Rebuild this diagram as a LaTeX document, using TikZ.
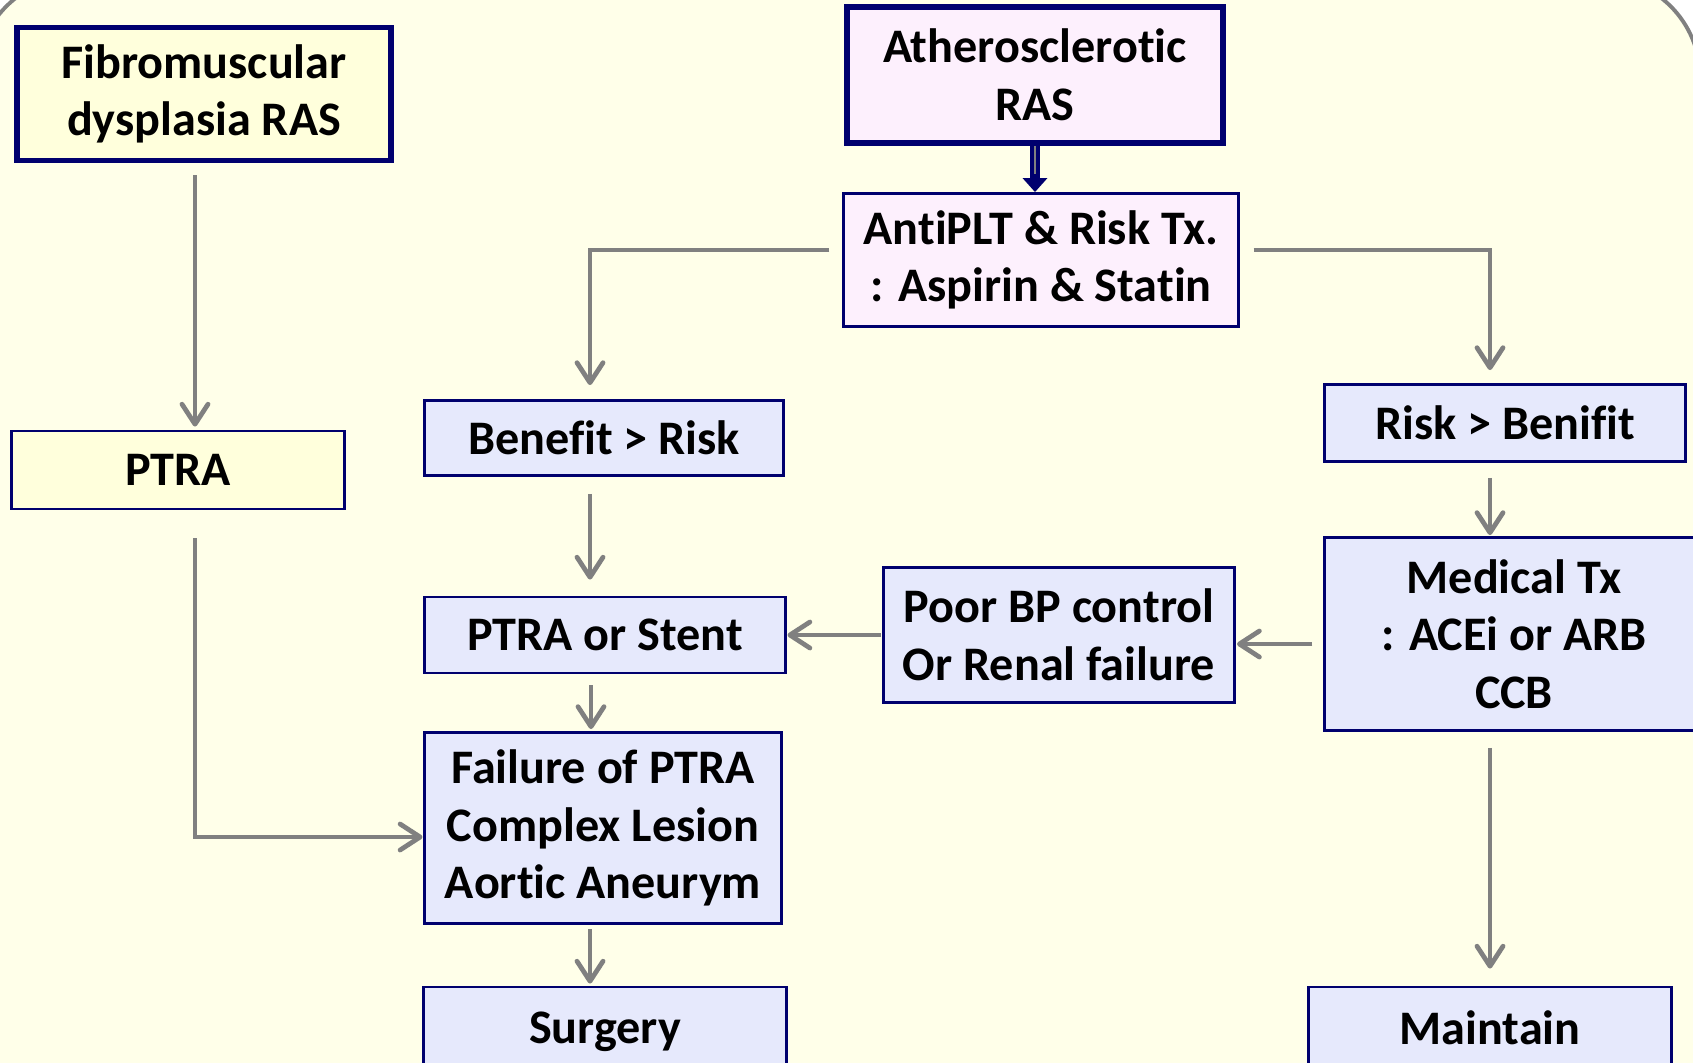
\documentclass[tikz,border=0pt]{standalone}
\usepackage{fontspec}
\setmainfont{Carlito}[Ligatures=CommonOff]
\usepackage{tikz}
\usetikzlibrary{arrows.meta, calc}
\definecolor{navyc}{RGB}{0, 0, 110}
\definecolor{arrgray}{RGB}{128, 128, 128}
\definecolor{bgc}{RGB}{255, 255, 233}
\definecolor{ylwbox}{RGB}{255, 255, 220}
\definecolor{pinkbox}{RGB}{253, 240, 253}
\definecolor{lavbox}{RGB}{230, 233, 252}

\begin{document}
\begin{tikzpicture}[x=0.01cm, y=-0.01cm,
		box/.style={rectangle, draw=navyc, line width=0.8pt, fill=lavbox,
			align=center, inner sep=0pt,
			font=\fontsize{13.7}{16.4}\selectfont\bfseries},
		topbox/.style={box, line width=1.6pt},
		arrow/.style={draw=arrgray, line width=1.35pt,
			-{Straight Barb[length=2mm, width=2.6mm, round]}},
		dblarrow/.style={draw=navyc, line width=2.8pt,
			-{Triangle[length=1.4mm, width=2.4mm]},
			postaction={draw=arrgray, line width=0.8pt, -, shorten >=5pt}}
		]
		\useasboundingbox (0,0) rectangle (1693,1062);
		\filldraw[fill=bgc, draw=arrgray, line width=1.1pt, rounded corners=1cm]
		(-23,-23) rectangle (1700,1300);
		
		% left branch
		\node[topbox, fill=ylwbox, minimum width=3.74cm, minimum height=1.33cm]
		(fmd) at (204, 94) {Fibromuscular\\dysplasia RAS};
		\node[box, fill=ylwbox, minimum width=3.32cm, minimum height=0.78cm]
		(ptra) at (178, 470) {PTRA};
		
		% atherosclerotic branch
		\node[topbox, fill=pinkbox, minimum width=3.76cm, minimum height=1.36cm]
		(ath) at (1035, 75) {Atherosclerotic\\RAS};
		\node[box, fill=pinkbox, minimum width=3.94cm, minimum height=1.33cm]
		(anti) at (1041, 260) {AntiPLT \& Risk Tx.\\: Aspirin \& Statin};
		
		\node[box, minimum width=3.59cm, minimum height=0.75cm]
		(ben) at (604, 438) {Benefit > Risk};
		\node[box, minimum width=3.60cm, minimum height=0.76cm]
		(ps) at (605, 635) {PTRA or Stent};
		\node[box, minimum width=3.56cm, minimum height=1.91cm]
		(fail) at (603, 828) {Failure of PTRA\\Complex Lesion\\Aortic Aneurym};
		\node[box, minimum width=3.62cm, minimum height=0.90cm]
		(surg) at (605, 1032) {Surgery};
		
		\node[box, minimum width=3.60cm, minimum height=0.77cm]
		(rb) at (1505, 423) {Risk > Benifit};
		\node[box, minimum width=3.78cm, minimum height=1.93cm]
		(med) at (1514, 634) {Medical Tx\\: ACEi or ARB\\CCB};
		\node[box, minimum width=3.51cm, minimum height=1.35cm]
		(poor) at (1059, 635) {Poor BP control\\Or Renal failure};
		\node[box, minimum width=3.62cm, minimum height=0.82cm]
		(maint) at (1490, 1028) {Maintain};
		
		% connectors
		\draw[arrow] ($(fmd.south)+(-9,12)$) -- ($(ptra.north)+(17,-3)$);
		\draw[arrow] ($(ptra.south)+(17,28)$) |- ($(fail.west)+(-1,9)$);
		\draw[dblarrow] (ath.south) -- (ath.south |- anti.north);
		\draw[arrow] ($(anti.west)+(-13,-10)$) -| ($(ben.north)+(-14,-14)$);
		\draw[arrow] ($(anti.east)+(14,-10)$) -| ($(rb.north)+(-15,-13)$);
		\draw[arrow] ($(ben.south)+(-14,17)$) -- ($(ps.north)+(-15,-16)$);
		\draw[arrow] ($(ps.south)+(-14,11)$) -- ($(fail.north)+(-12,-2)$);
		\draw[arrow] ($(fail.south)+(-13,4)$) -- ($(surg.north)+(-15,-2)$);
		\draw[arrow] ($(rb.south)+(-15,15)$) -- ($(med.north)+(-24,-1)$);
		\draw[arrow] ($(med.west)+(-11,10)$) -- ($(poor.east)+(1,9)$);
		\draw[arrow] ($(poor.west)+(-1,0)$) -- ($(ps.east)+(1,0)$);
		\draw[arrow] ($(med.south)+(-24,16)$) -- ($(maint.north)+(0,-17)$);
	\end{tikzpicture}
\end{document}
